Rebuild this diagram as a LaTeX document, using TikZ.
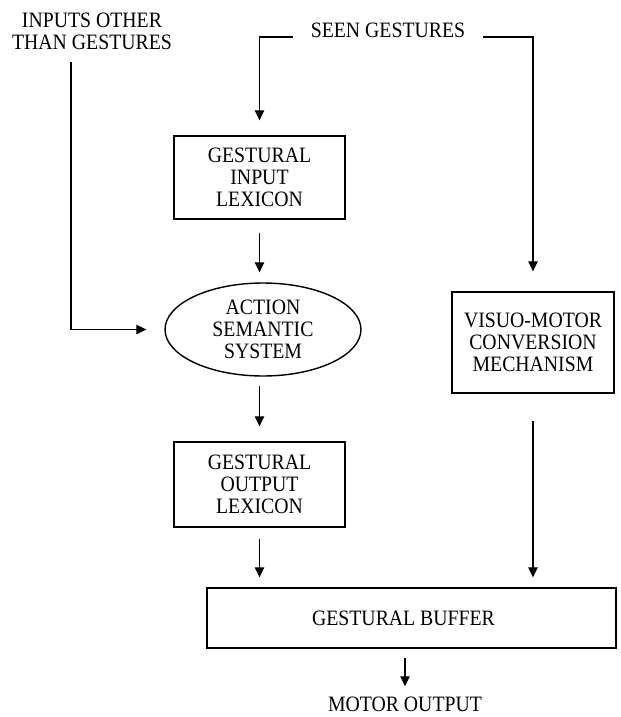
\documentclass[tikz,border=0pt]{standalone}
\usepackage{fontspec}
\setmainfont{Liberation Serif}[FakeStretch=0.9]
\usetikzlibrary{arrows.meta,shapes.geometric}

\tikzset{
  box/.style={draw, line width=0.8pt, align=center, inner sep=1pt},
  label/.style={align=center, inner sep=1pt},
  flow/.style={line width=0.6pt, -{Triangle[length=2mm,width=1.9mm]}}
}

\begin{document}
\begin{tikzpicture}[x=0.02cm, y=-0.02cm, font=\fontsize{12.5}{12.4}\selectfont]

  \useasboundingbox (0,0) rectangle (621,717);

  % --- Inputs ---
  \node[label] (other) at (92,31) {INPUTS OTHER\\THAN GESTURES};
  \node[label, anchor=base, inner xsep=0.36cm] (seen) at (388,37) {SEEN GESTURES};

  % --- Boxes ---
  \node[box, minimum width=3.42cm, minimum height=1.66cm] (gil) at (259.5,177.5) {GESTURAL\\INPUT\\LEXICON};
  \node[box, ellipse, minimum width=3.92cm, minimum height=1.86cm] (ass) at (263,329.5) {ACTION\\SEMANTIC\\SYSTEM};
  \node[box, minimum width=3.42cm, minimum height=1.7cm] (gol) at (259.5,484.5) {GESTURAL\\OUTPUT\\LEXICON};
  \node[box, minimum width=3.24cm, minimum height=2.02cm] (vmc) at (533,342.5) {VISUO-MOTOR\\CONVERSION\\MECHANISM};
  \node[box, minimum width=8.18cm, minimum height=1.2cm] (gb) at (411.5,618) {GESTURAL BUFFER\hspace{0.32cm}};

  % --- Output ---
  \node[label, inner sep=0pt] (motor) at (405,704) {MOTOR OUTPUT};

  % --- Coordinates for bends ---
  \coordinate (ostart) at (71,62);

  % --- Connectors ---
  \draw[flow, shorten >=0.3cm] (seen.base west) -| (gil.north);
  \draw[flow, shorten >=0.4cm] (seen.base east) -| (vmc.north);
  \draw[flow, shorten >=0.36cm] (ostart) |- (ass.west);

  \draw[flow, shorten <=0.26cm, shorten >=0.2cm] (gil.south) -- (gil.south |- ass.north);
  \draw[flow, shorten <=0.18cm, shorten >=0.3cm] (gil.center |- ass.south) -- (gol.north);
  \draw[flow, shorten <=0.22cm, shorten >=0.2cm] (gol.south) -- (gol.south |- gb.north);
  \draw[flow, shorten <=0.54cm, shorten >=0.2cm] (vmc.south) -- (vmc.south |- gb.north);
  \draw[flow, shorten <=0.18cm, shorten >=0.2cm] (gb.south -| motor.north) -- (motor.north);

\end{tikzpicture}
\end{document}
